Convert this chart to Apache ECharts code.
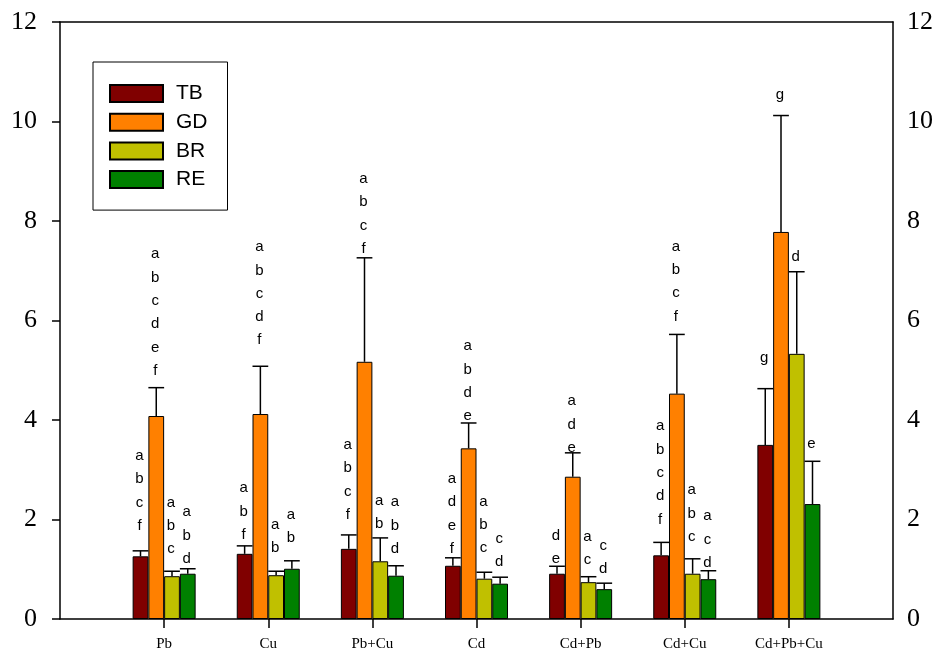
<!DOCTYPE html>
<html>
<head>
<meta charset="utf-8">
<script src="https://cdn.jsdelivr.net/npm/echarts@6/dist/echarts.min.js"></script>
<style>
  html, body { margin: 0; padding: 0; background: #fff; }
  #chart { width: 938px; height: 652px; }
</style>
</head>
<body>
<div id="chart"></div>
<script>
// Treatments on the x axis
const categories = ['Pb', 'Cu', 'Pb+Cu', 'Cd', 'Cd+Pb', 'Cd+Cu', 'Cd+Pb+Cu'];
const seriesNames = ['TB', 'GD', 'BR', 'RE'];

// Means
const tbMean = [1.26, 1.31, 1.41, 1.07, 0.91, 1.28, 3.50];
const gdMean = [4.08, 4.12, 5.17, 3.43, 2.86, 4.53, 7.78];
const brMean = [0.86, 0.88, 1.16, 0.81, 0.74, 0.91, 5.33];
const reMean = [0.91, 1.01, 0.87, 0.71, 0.60, 0.80, 2.31];

// Standard errors (upper bars)
const tbErr = [0.11, 0.16, 0.28, 0.16, 0.15, 0.26, 1.13];
const gdErr = [0.57, 0.96, 2.09, 0.51, 0.48, 1.19, 2.34];
const brErr = [0.10, 0.08, 0.47, 0.13, 0.11, 0.30, 1.65];
const reErr = [0.10, 0.16, 0.20, 0.13, 0.12, 0.17, 0.86];

// Significance letters
const tbLetters = ['abcf', 'abf', 'abcf', 'adef', 'de', 'abcdf', 'g'];
const gdLetters = ['abcdef', 'abcdf', 'abcf', 'abde', 'ade', 'abcf', 'g'];
const brLetters = ['abc', 'ab', 'ab', 'abc', 'ac', 'abc', 'd'];
const reLetters = ['abd', 'ab', 'abd', 'cd', 'cd', 'acd', 'e'];

// Y tick values
const yTicks = [0, 2, 4, 6, 8, 10, 12];

// Layout: gap in px between error cap and lowest letter
const letterLift = [
  [25, 11, 20, 9, 7, 23, 31],
  [17, 26, 9, 7, 5, 18, 21],
  [22, 23, 14, 24, 17, 22, 15],
  [10, 23, 17, 15, 14, 8, 17]
];

const means = [tbMean, gdMean, brMean, reMean];
const errs = [tbErr, gdErr, brErr, reErr];
const letters = [tbLetters, gdLetters, brLetters, reLetters];
const colors = ['#800000', '#FF8000', '#C0C000', '#008000'];

const BAR_W = 15.75;
const LINE_H = 23.3;

const chart = echarts.init(document.getElementById('chart'), null, { renderer: 'canvas' });

const series = [];
seriesNames.forEach((name, s) => {
  series.push({
    name: name,
    type: 'bar',
    xAxisIndex: 0,
    yAxisIndex: 0,
    barWidth: BAR_W,
    barGap: '0%',
    itemStyle: { color: colors[s], borderColor: '#000', borderWidth: 1 },
    data: means[s].map((v, i) => [i + 1, v]),
    z: 2
  });
});

seriesNames.forEach((name, s) => {
  const offset = (s - 1.5) * BAR_W;
  series.push({
    type: 'custom',
    xAxisIndex: 0,
    yAxisIndex: 0,
    z: 3,
    silent: true,
    data: means[s].map((v, i) => [i + 1, v, errs[s][i]]),
    renderItem: function (params, api) {
      const i = params.dataIndex;
      const x = api.value(0);
      const v = api.value(1);
      const e = api.value(2);
      const base = api.coord([x, v]);
      const top = api.coord([x, v + e]);
      const cx = base[0] + offset;
      const children = [
        { type: 'line', shape: { x1: cx, y1: base[1], x2: cx, y2: top[1] },
          style: { stroke: '#000', lineWidth: 1.5 } },
        { type: 'line', shape: { x1: cx - BAR_W / 2, y1: top[1], x2: cx + BAR_W / 2, y2: top[1] },
          style: { stroke: '#000', lineWidth: 1.5 } }
      ];
      const str = letters[s][i];
      const n = str.length;
      for (let k = 0; k < n; k++) {
        const ch = str[n - 1 - k];
        children.push({
          type: 'text',
          x: cx - 1,
          y: top[1] - letterLift[s][i] - k * LINE_H,
          style: {
            text: ch, fill: '#000',
            font: '15px "Liberation Sans", Arial, sans-serif',
            align: 'center', verticalAlign: 'middle'
          }
        });
      }
      return { type: 'group', children: children };
    }
  });
});

const serifFont = '"Liberation Serif", "Times New Roman", serif';

chart.setOption({
  animation: false,
  backgroundColor: '#fff',
  grid: { left: 60, right: 45, top: 22, bottom: 33, containLabel: false },
  legend: {
    data: seriesNames.map(n => ({ name: n, icon: 'rect' })),
    orient: 'vertical',
    left: 93,
    top: 62,
    itemWidth: 53,
    itemHeight: 17,
    itemGap: 7.7,
    padding: [21, 20, 20, 16],
    borderColor: '#000',
    borderWidth: 1,
    borderRadius: 0,
    backgroundColor: '#fff',
    selectedMode: false,
    textStyle: { fontSize: 21, color: '#000', fontFamily: '"Liberation Sans", Arial, sans-serif', padding: [0, 0, 0, 8] }
  },
  xAxis: [
    {
      type: 'value', min: 0, max: 8, interval: 1, position: 'bottom',
      axisLine: { show: true, lineStyle: { color: '#000', width: 1.5 } },
      axisTick: { show: true, length: 9, customValues: [1, 2, 3, 4, 5, 6, 7], lineStyle: { color: '#000', width: 1.5 } },
      axisLabel: {
        customValues: [1, 2, 3, 4, 5, 6, 7],
        formatter: v => categories[v - 1] || '',
        color: '#000', fontSize: 15, fontFamily: serifFont, margin: 18
      },
      splitLine: { show: false }
    },
    {
      type: 'value', min: 0, max: 8, position: 'top',
      axisLine: { show: true, onZero: false, lineStyle: { color: '#000', width: 1.5 } },
      axisTick: { show: false }, axisLabel: { show: false }, splitLine: { show: false }
    }
  ],
  yAxis: [
    {
      type: 'value', min: yTicks[0], max: yTicks[yTicks.length - 1], interval: 2, position: 'left',
      axisLine: { show: true, lineStyle: { color: '#000', width: 1.5 } },
      axisTick: { show: true, length: 8, lineStyle: { color: '#000', width: 1.5 } },
      axisLabel: { color: '#000', fontSize: 26, fontFamily: serifFont, margin: 23 },
      splitLine: { show: false }
    },
    {
      type: 'value', min: yTicks[0], max: yTicks[yTicks.length - 1], interval: 2, position: 'right',
      axisLine: { show: true, onZero: false, lineStyle: { color: '#000', width: 1.5 } },
      axisTick: { show: false },
      axisLabel: { color: '#000', fontSize: 26, fontFamily: serifFont, margin: 14 },
      splitLine: { show: false }
    }
  ],
  series: series
});
</script>
</body>
</html>
